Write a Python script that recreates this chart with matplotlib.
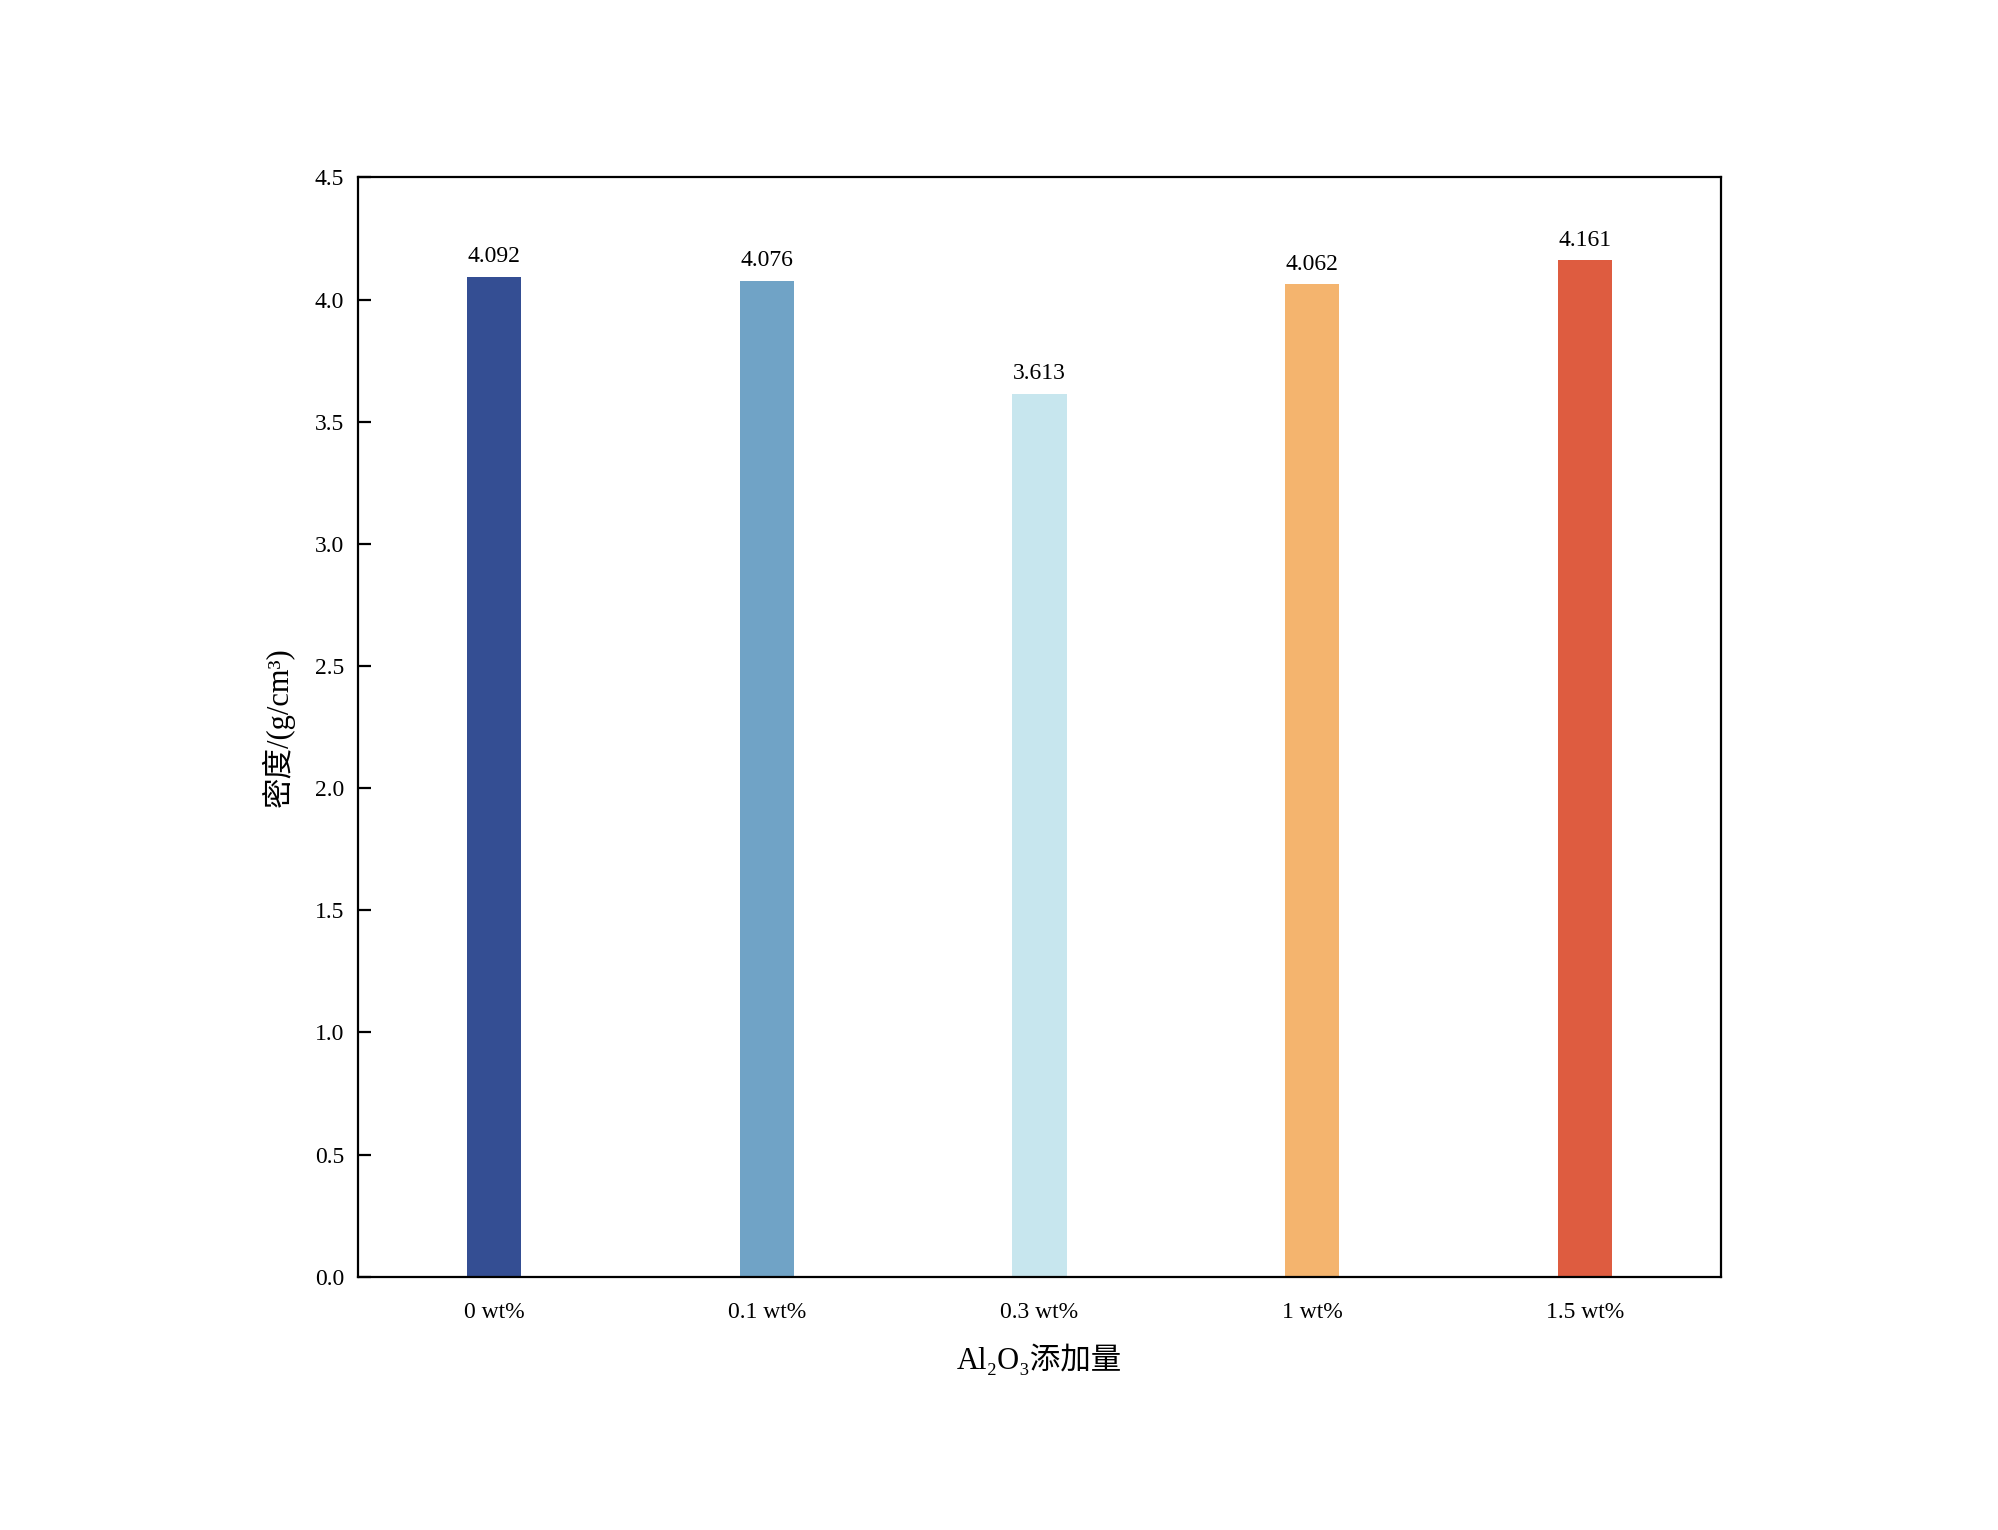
import numpy as np
import matplotlib
matplotlib.use("Agg")
import matplotlib.pyplot as plt

plt.rcParams['font.family'] = ['Liberation Serif', 'Noto Sans CJK SC', 'DejaVu Serif']

# data
labels = ["0 wt%", "0.1 wt%", "0.3 wt%", "1 wt%", "1.5 wt%"]
density = [4.092, 4.076, 3.613, 4.062, 4.161]
colors = ["#344E93", "#70A3C6", "#C7E6EE", "#F4B46E", "#DE5C40"]
yticks = [0.0, 0.5, 1.0, 1.5, 2.0, 2.5, 3.0, 3.5, 4.0, 4.5]

fig = plt.figure(figsize=(9.995, 7.65), dpi=200)
ax = fig.add_axes([0.179, 0.1656, 0.861 - 0.179, 0.884 - 0.1656])

x = np.arange(len(labels))
bars = ax.bar(x, density, width=0.2, color=colors)

for xi, v in zip(x, density):
    ax.annotate("%.3f" % v, (xi, v), xytext=(0, 3.5), textcoords="offset points",
                ha="center", va="bottom", fontsize=8.5)

ax.set_xlim(-0.5, 4.5)
ax.set_ylim(0, 4.5)
ax.set_yticks(yticks)
ax.set_yticklabels(["%.1f" % t for t in yticks])
ax.set_xticks(x)
ax.set_xticklabels(labels)
ax.tick_params(axis="y", direction="in", length=4.5, width=0.8, pad=5, labelsize=8.5)
ax.tick_params(axis="x", length=0, pad=9, labelsize=8.5)
for s in ax.spines.values():
    s.set_linewidth(0.8)

ax.set_xlabel("Al₂O₃添加量", fontsize=11, labelpad=8)
ax.set_ylabel("密度/(g/cm³)", fontsize=11, labelpad=7)

fig.savefig("out.png", dpi=200)
